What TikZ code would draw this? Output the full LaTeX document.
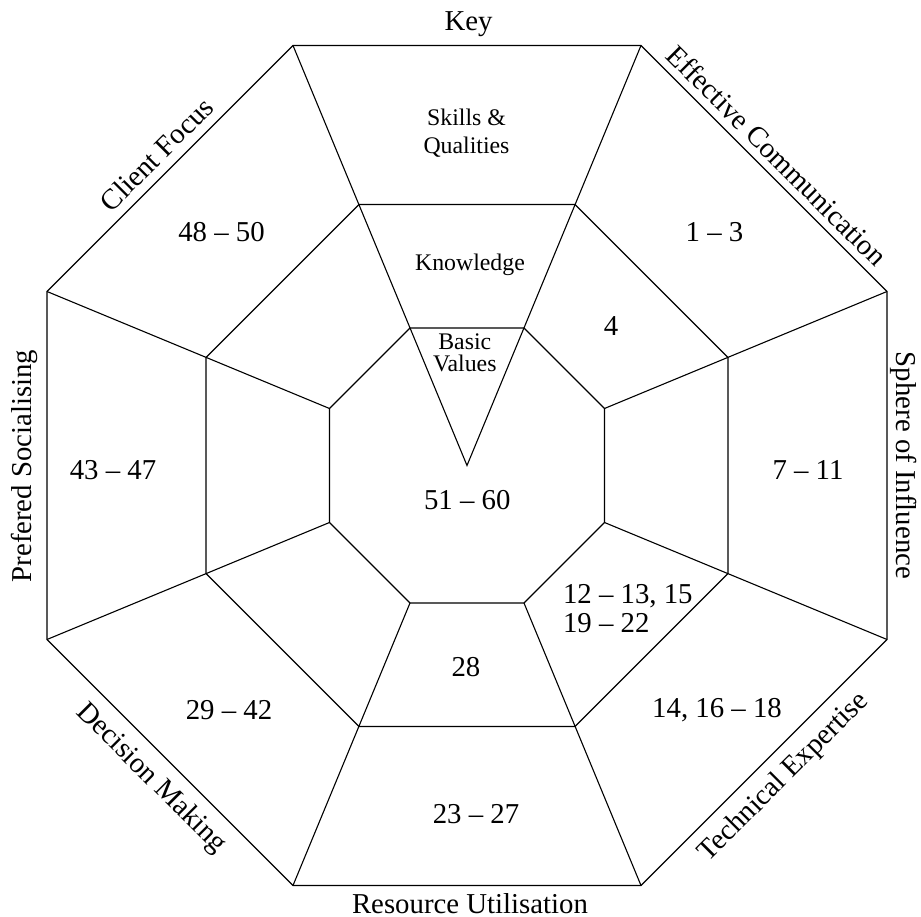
\documentclass[tikz,border=0pt]{standalone}
\usepackage{fontspec}
\setmainfont{Liberation Serif}
\begin{document}
\begin{tikzpicture}[x=1pt,y=1pt,line width=1.1pt,
  big/.style={font=\fontsize{28.8}{34}\selectfont, inner sep=0pt},
  small/.style={font=\fontsize{23.8}{28}\selectfont, inner sep=0pt},
  edgelabel/.style={big, anchor=base}]
\useasboundingbox (-467,-451.5) rectangle (454,465.5);
% outer octagon
\coordinate (o1) at (-174,420);
\coordinate (o2) at (174,420);
\coordinate (o3) at (420,174);
\coordinate (o4) at (420,-174);
\coordinate (o5) at (174,-420);
\coordinate (o6) at (-174,-420);
\coordinate (o7) at (-420,-174);
\coordinate (o8) at (-420,174);
% middle octagon
\coordinate (m1) at (-108,261);
\coordinate (m2) at (108,261);
\coordinate (m3) at (261,108);
\coordinate (m4) at (261,-108);
\coordinate (m5) at (108,-261);
\coordinate (m6) at (-108,-261);
\coordinate (m7) at (-261,-108);
\coordinate (m8) at (-261,108);
% inner octagon
\coordinate (i1) at (-57,137.5);
\coordinate (i2) at (57,137.5);
\coordinate (i3) at (137.5,57);
\coordinate (i4) at (137.5,-57);
\coordinate (i5) at (57,-137.5);
\coordinate (i6) at (-57,-137.5);
\coordinate (i7) at (-137.5,-57);
\coordinate (i8) at (-137.5,57);
\coordinate (c) at (0,0);

\draw (o1)--(o2)--(o3)--(o4)--(o5)--(o6)--(o7)--(o8)--cycle;
\draw (m1)--(m2)--(m3)--(m4)--(m5)--(m6)--(m7)--(m8)--cycle;
\draw (i1)--(i2)--(i3)--(i4)--(i5)--(i6)--(i7)--(i8)--cycle;
\draw (o1)--(c)--(o2);
\draw (o3)--(i3);
\draw (o4)--(i4);
\draw (o5)--(i5);
\draw (o6)--(i6);
\draw (o7)--(i7);
\draw (o8)--(i8);

% edge labels
\node[edgelabel] (lkey) at (1.5,434.5) {Key};
\node[edgelabel, rotate=-45] (leff) at (303,303) {Effective Communication};
\node[edgelabel, rotate=-90] (lsph) at (429,0) {Sphere of Influence};
\node[edgelabel, rotate=45] (ltech) at (322,-317) {Technical Expertise};
\node[edgelabel] (lres) at (3,-448) {Resource Utilisation};
\node[edgelabel, rotate=-45] (ldec) at (-321,-318) {Decision Making};
\node[edgelabel, rotate=90] (lpref) at (-435.3,-0.5) {Prefered Socialising};
\node[edgelabel, rotate=45] (lcli) at (-303.6,304.1) {Client Focus};

% region labels
\node[small, align=center] (skills) at (-0.5,332.5) {Skills \&\\Qualities};
\node[small] (know) at (3,200.5) {Knowledge};
\node[inner sep=0pt, font=\fontsize{23.8}{21.7}\selectfont, align=center] (basic) at (-2.2,112.8) {Basic\\Values};
\node[big] (r4850) at (-245.5,233.2) {48 -- 50};
\node[big] (r13) at (247.5,233.5) {1 -- 3};
\node[big] (r4) at (144,139.5) {4};
\node[big] (r4347) at (-354,-4.5) {43 -- 47};
\node[big] (r711) at (341,-4.5) {7 -- 11};
\node[big] (r5160) at (0.3,-34.5) {51 -- 60};
\node[inner sep=0pt, font=\fontsize{28.8}{28.4}\selectfont, align=left, anchor=north west] (r1222) at (95.5,-118.5) {12 -- 13, 15\\19 -- 22};
\node[big] (r28) at (-1,-201.2) {28};
\node[big] (r2942) at (-238,-244.5) {29 -- 42};
\node[big] (r1418) at (250,-244.5) {14, 16 -- 18};
\node[big] (r2327) at (9,-348.5) {23 -- 27};
\end{tikzpicture}
\end{document}
